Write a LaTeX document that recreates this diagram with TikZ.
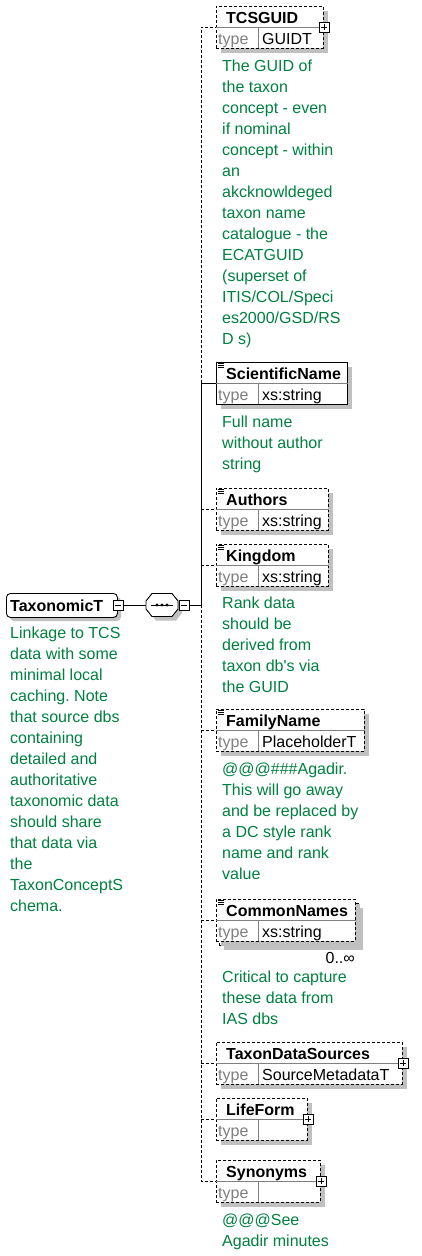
\documentclass[tikz,border=0pt]{standalone}
\usepackage{fontspec}
\setmainfont{Liberation Sans}[Ligatures=TeXOff]
\frenchspacing
\definecolor{xgreen}{RGB}{0,128,64}
\definecolor{xshadow}{RGB}{192,192,192}
\definecolor{xgray}{RGB}{128,128,128}
\tikzset{
  conn/.style={line width=0.9pt, draw=black},
  optd/.style={dash pattern=on 3pt off 2pt},
  shadowc/.style={fill=xshadow, draw=none},
  elbox/.style={draw=black, fill=white, minimum width=#1, minimum height=42, inner sep=0, anchor=north west, line width=0.9pt},
  divline/.style={draw=xgray, line width=0.9pt},
  titletxt/.style={font=\bfseries\fontsize{16}{19}\selectfont, inner sep=0, anchor=base west},
  typetxt/.style={font=\fontsize{16}{19}\selectfont, text=xgray, inner sep=0, anchor=base west},
  valtxt/.style={font=\fontsize{16}{19}\selectfont, inner sep=0, anchor=base west},
  note/.style={font=\fontsize{16}{21}\selectfont, text=xgreen, align=left, inner sep=0, anchor=north west},
  plusbox/.style={draw=black, fill=white, minimum size=10, inner sep=0, line width=0.8pt,
    path picture={\draw[line width=0.8pt] ([xshift=2pt]path picture bounding box.west) -- ([xshift=-2pt]path picture bounding box.east)
      ([yshift=-2pt]path picture bounding box.north) -- ([yshift=2pt]path picture bounding box.south);}},
  minusbox/.style={draw=black, fill=white, minimum size=10, inner sep=0, line width=0.8pt,
    path picture={\draw[line width=0.8pt] ([xshift=2pt]path picture bounding box.west) -- ([xshift=-2pt]path picture bounding box.east);}},
}
% element: #1 name, #2 divider y, #3 width, #4 title, #5 type, #6 border style
\newcommand{\xelem}[6]{%
  \fill[shadowc] (221,#2-16) rectangle ++(#3,42);
  \node[elbox={#3},#6] (#1) at (216,#2-21) {};
  \draw[divline] (#1.west) -- (#1.east);
  \draw[divline] (258,#2) -- (258,#2+21);
  \node[titletxt] (#1-t) at (226,#2-4) {#4};
  \node[typetxt] (#1-k) at (218,#2+17) {type};
  \node[valtxt] (#1-v) at (262,#2+17) {#5};
}
\newcommand{\xicon}[1]{%
  \draw[line width=0.7pt] (218,#1-19.5) -- ++(6,0) (218,#1-17.5) -- ++(6,0) (218,#1-15.5) -- ++(6,0);
}
\newcommand{\seqpath}[2]{% centre x, centre y
  (#1-16,#2-4) -- (#1-10,#2-11.5) -- (#1+10,#2-11.5) -- (#1+16,#2-4) -- (#1+16,#2+4) -- (#1+10,#2+11.5) -- (#1-10,#2+11.5) -- (#1-16,#2+4) -- cycle
}
\begin{document}
\begin{tikzpicture}[x=1pt,y=-1pt]
\useasboundingbox (0,0) rectangle (421,1256);

% root element
\fill[shadowc, rounded corners=4] (10,597) rectangle ++(111,24);
\node[draw=black, fill=white, rounded corners=4, minimum width=111, minimum height=24, inner sep=0, anchor=north west, line width=0.9pt] (tax) at (6,593) {};
\node[titletxt] (tax-t) at (10,611) {TaxonomicT};
\node[minusbox] (taxm) at (118,605) {};
\node[note] (taxn) at (10,627) {Linkage to TCS\\data with some\\minimal local\\caching. Note\\that source dbs\\containing\\detailed and\\authoritative\\taxonomic data\\should share\\that data via\\the\\TaxonConceptS\\chema.};

% sequence compositor
\fill[shadowc] \seqpath{166}{609};
\draw[line width=0.9pt, fill=white] \seqpath{162}{605};
\node[minimum width=32, minimum height=23, inner sep=0] (seq) at (162,605) {};
\draw[line width=0.8pt] ([xshift=5pt]seq.west) -- ([xshift=-5pt]seq.east);
\foreach \dx in {-5,0,5} \fill ([xshift=\dx pt]seq.center) circle (1.7pt);
\node[minusbox] (seqm) at (184,605) {};
\draw[conn] (taxm.east) -- (seq.west);
\coordinate (sp) at (201,605);
\draw[conn] (seqm.east) -- (sp);

% elements
\xelem{tcs}{27}{107}{TCSGUID}{GUIDT}{optd}
\node[plusbox] at (tcs.east) {};
\node[note] (tcsn) at (222,60) {The GUID of\\the taxon\\concept - even\\if nominal\\concept - within\\an\\akcknowldeged\\taxon name\\catalogue - the\\ECATGUID\\(superset of\\ITIS/COL/Speci\\es2000/GSD/RS\\D s)};

\xelem{sci}{383}{131}{ScientificName}{xs:string}{}
\xicon{383}
\node[note] (scin) at (222,416) {Full name\\without author\\string};

\xelem{aut}{509}{112}{Authors}{xs:string}{optd}
\xicon{509}

\xelem{kin}{565}{112}{Kingdom}{xs:string}{optd}
\xicon{565}
\node[note] (kinn) at (222,597) {Rank data\\should be\\derived from\\taxon db's via\\the GUID};

\xelem{fam}{730}{148}{FamilyName}{PlaceholderT}{optd}
\xicon{730}
\node[note] (famn) at (222,763) {@@@\#\#\#Agadir.\\This will go away\\and be replaced by\\a DC style rank\\name and rank\\value};

% stacked (multiple) element
\fill[shadowc] (224,908) rectangle ++(139,42);
\node[elbox={139},optd] (comb) at (219,903) {};
\xelem{com}{920}{139}{CommonNames}{xs:string}{optd}
\xicon{920}
\node[valtxt, anchor=base east] (comm) at (355,963) {0..∞};
\node[note] (comn) at (222,971) {Critical to capture\\these data from\\IAS dbs};

\xelem{tds}{1063}{186}{TaxonDataSources}{SourceMetadataT}{optd}
\node[plusbox] at (tds.east) {};

\xelem{lif}{1119}{91}{LifeForm}{}{optd}
\node[plusbox] at (lif.east) {};

\xelem{syn}{1181}{104}{Synonyms}{}{optd}
\node[plusbox] at (syn.east) {};
\node[note] (synn) at (222,1214) {@@@See\\Agadir minutes};

% spine and connectors
\draw[conn] (sp) -- (sp |- sci.west) -- (sci.west);
\draw[conn, optd] (sp |- sci.west) -- (sp |- tcs.west) -- (tcs.west);
\draw[conn, optd] (sp |- aut.west) -- (aut.west);
\draw[conn, optd] (sp |- kin.west) -- (kin.west);
\draw[conn, optd] (sp) -- (sp |- syn.west) -- (syn.west);
\draw[conn, optd] (sp |- fam.west) -- (fam.west);
\draw[conn, optd] (sp |- com.west) -- (com.west);
\draw[conn, optd] (sp |- tds.west) -- (tds.west);
\draw[conn, optd] (sp |- lif.west) -- (lif.west);
\end{tikzpicture}
\end{document}
